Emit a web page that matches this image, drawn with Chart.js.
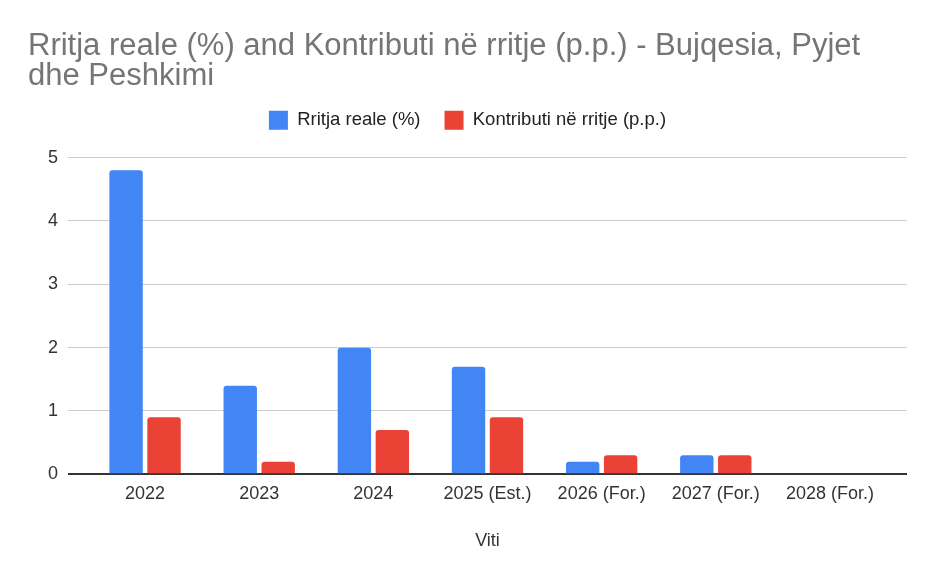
<!DOCTYPE html>
<html>
<head>
<meta charset="utf-8">
<script src="https://cdn.jsdelivr.net/npm/chart.js@4/dist/chart.umd.min.js"></script>
<style>
  html, body { margin: 0; padding: 0; background: #fff; }
  #wrap { width: 936px; height: 570px; }
</style>
</head>
<body>
<div id="wrap"><canvas id="chart"></canvas></div>
<script>
  // të dhënat
  const years = ['2022', '2023', '2024', '2025 (Est.)', '2026 (For.)', '2027 (For.)', '2028 (For.)'];
  const rritjaReale = [4.8, 1.4, 2.0, 1.7, 0.2, 0.3, null];
  const kontributi = [0.9, 0.2, 0.7, 0.9, 0.3, 0.3, null];
  const yTicks = [0, 1, 2, 3, 4, 5];

  const FONT = '"Liberation Sans", Arial, sans-serif';

  const barStyle = {
    borderRadius: { topLeft: 3, topRight: 3, bottomLeft: 0, bottomRight: 0 },
    borderSkipped: 'start',
    categoryPercentage: 0.665,
    barPercentage: 0.88,
  };

  // vija e zeros më e errët
  const gridColor = (ctx) => (ctx.tick && ctx.tick.value === 0 ? '#333333' : '#cccccc');
  const gridWidth = (ctx) => (ctx.tick && ctx.tick.value === 0 ? 2 : 1);
  const setTicks = (axis) => { axis.ticks = yTicks.map((v) => ({ value: v })); };

  // hapësirë shtesë nën legjendë
  const legendGap = {
    id: 'legendGap',
    beforeInit(chart) {
      const fit = chart.legend.fit;
      chart.legend.fit = function () {
        fit.call(this);
        this.height += 18;
      };
    },
  };

  new Chart(document.getElementById('chart'), {
    type: 'bar',
    data: {
      labels: years,
      datasets: [
        { label: 'Rritja reale (%)', data: rritjaReale, backgroundColor: '#4285F4', ...barStyle },
        { label: 'Kontributi në rritje (p.p.)', data: kontributi, backgroundColor: '#EA4335', ...barStyle },
      ],
    },
    options: {
      responsive: true,
      maintainAspectRatio: false,
      animation: false,
      layout: { padding: { left: 28, right: 29, top: 31, bottom: 14 } },
      plugins: {
        title: {
          display: true,
          align: 'start',
          text: ['Rritja reale (%) and Kontributi në rritje (p.p.) - Bujqesia, Pyjet', 'dhe Peshkimi'],
          color: '#757575',
          font: { family: FONT, size: 31, weight: 'normal', lineHeight: 0.97 },
          padding: { top: 0, bottom: -4.5 },
        },
        legend: {
          position: 'top',
          labels: {
            color: '#222',
            font: { family: FONT, size: 18.5 },
            boxWidth: 19,
            boxHeight: 19,
            padding: 24,
          },
        },
        tooltip: { enabled: false },
      },
      scales: {
        x: {
          grid: { display: false, drawTicks: false },
          border: { display: false },
          ticks: { color: '#333', font: { family: FONT, size: 18 }, padding: 8.5 },
          title: {
            display: true,
            text: 'Viti',
            color: '#333',
            font: { family: FONT, size: 18 },
            padding: { top: 17.5 },
          },
        },
        y: {
          min: 0,
          max: 5,
          afterBuildTicks: setTicks,
          afterFit: (axis) => { axis.width = 60; },
          grid: { color: gridColor, lineWidth: gridWidth, drawTicks: true, tickLength: 20 },
          border: { display: false },
          ticks: { color: '#333', font: { family: FONT, size: 18 }, padding: 10 },
        },
        y2: {
          position: 'right',
          min: 0,
          max: 5,
          afterBuildTicks: setTicks,
          grid: { color: gridColor, lineWidth: gridWidth, drawOnChartArea: false, drawTicks: true, tickLength: 20 },
          border: { display: false },
          ticks: { display: false },
        },
      },
    },
    plugins: [legendGap],
  });
</script>
</body>
</html>
